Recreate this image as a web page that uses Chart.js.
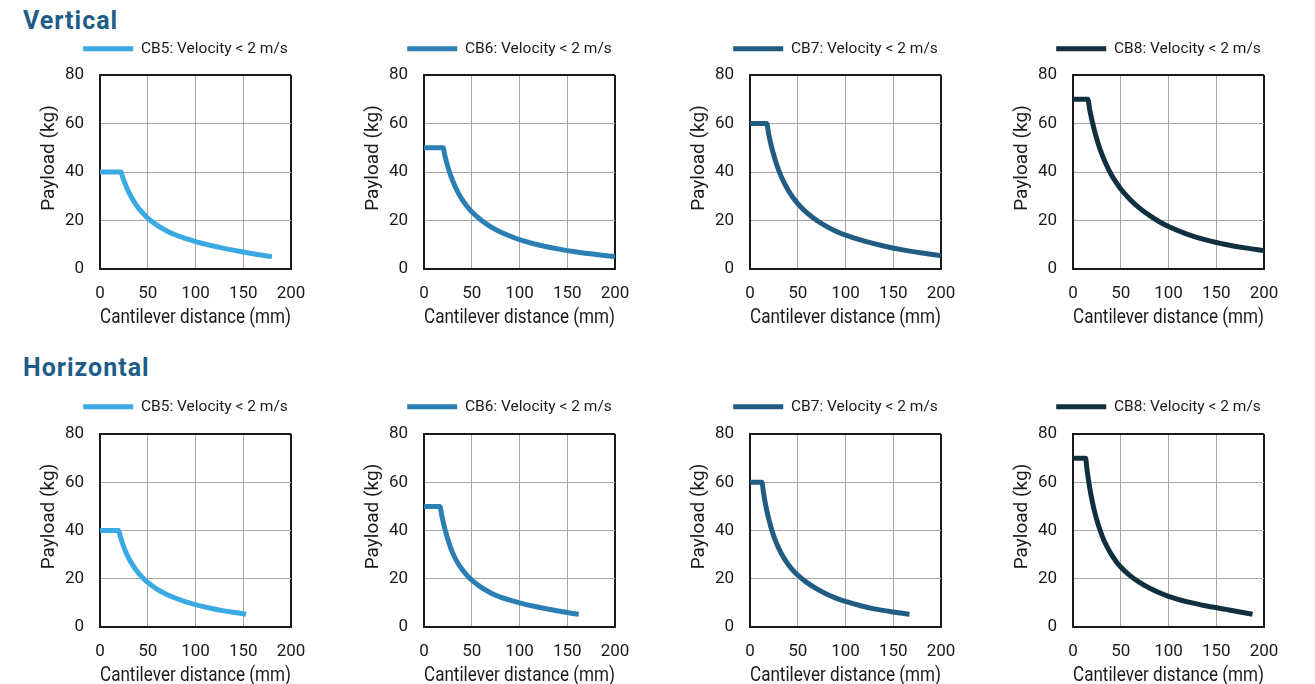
<!DOCTYPE html>
<html>
<head>
<meta charset="utf-8">
<script src="https://cdn.jsdelivr.net/npm/chart.js@4.4.1/dist/chart.umd.min.js"></script>
<style>
  html, body { margin: 0; padding: 0; background: #ffffff; }
  body { position: relative; width: 1315px; height: 684px; overflow: hidden; font-family: Roboto, sans-serif; }
  .sec { position: absolute; left: 23px; font-family: Roboto, sans-serif; font-weight: 700; font-size: 25px; letter-spacing: 1px; color: #1e5d87; line-height: normal; white-space: nowrap; }
  canvas { position: absolute; }
</style>
</head>
<body>
<div class="sec" style="top:6px">Vertical</div>
<div class="sec" style="top:353px">Horizontal</div>
<script>
// ---------- data ----------
const xTickValues = [0, 50, 100, 150, 200];
const yTickValues = [0, 20, 40, 60, 80];
const xAxisTitle = 'Cantilever distance (mm)';
const yAxisTitle = 'Payload (kg)';
const seriesLabels = ['CB5: Velocity < 2 m/s', 'CB6: Velocity < 2 m/s', 'CB7: Velocity < 2 m/s', 'CB8: Velocity < 2 m/s'];
const seriesColors = ['#3ba9e4', '#2b7fb4', '#215c82', '#11303f'];

// Vertical mounting
const vCB5X = [0, 22, 24, 27, 30, 35, 40, 45, 50, 60, 70, 80, 90, 100, 115, 130, 150, 165, 180];
const vCB5Y = [40, 40, 37.6, 34.5, 31.8, 28.2, 25.3, 23, 21, 18, 15.7, 13.9, 12.55, 11.3, 9.8, 8.5, 7, 6, 5.1];
const vCB6X = [0, 20, 22, 25, 28, 32, 36, 40, 45, 50, 60, 70, 80, 90, 100, 120, 140, 160, 180, 200];
const vCB6Y = [50, 50, 46.5, 42.1, 38.5, 34.5, 31.3, 28.6, 25.9, 23.6, 20.1, 17.4, 15.3, 13.6, 12.1, 9.9, 8.3, 7, 6, 5.1];
const vCB7X = [0, 17.5, 19.5, 22, 25, 28, 32, 36, 40, 45, 50, 60, 70, 80, 90, 100, 120, 140, 160, 180, 200];
const vCB7Y = [60, 60, 55.8, 51.3, 46.8, 43, 38.8, 35.4, 32.5, 29.5, 27, 23, 20, 17.6, 15.6, 14, 11.5, 9.5, 7.9, 6.6, 5.5];
const vCB8X = [0, 15.5, 17.5, 20, 23, 26, 30, 35, 40, 45, 50, 60, 70, 80, 90, 100, 120, 140, 160, 180, 200];
const vCB8Y = [70, 70, 65.7, 61.1, 56.3, 52.2, 47.6, 42.9, 39, 35.8, 33, 28.6, 25, 22.1, 19.6, 17.5, 14.3, 11.9, 10.1, 8.7, 7.6];

// Horizontal mounting
const hCB5X = [0, 19.5, 21.5, 24, 27, 30, 35, 40, 45, 50, 60, 70, 80, 90, 100, 115, 130, 143, 153];
const hCB5Y = [40, 40, 37.2, 34.2, 31.1, 28.6, 25.2, 22.5, 20.3, 18.5, 15.6, 13.5, 11.8, 10.4, 9.3, 7.9, 6.7, 5.9, 5.3];
const hCB6X = [0, 16.7, 18.5, 21, 24, 28, 32, 36, 40, 45, 50, 60, 70, 80, 90, 100, 115, 130, 145, 162];
const hCB6Y = [50, 50, 46.4, 42, 37.6, 32.7, 29, 26.1, 23.8, 21.4, 19.4, 16.4, 14.1, 12.4, 11.1, 10, 8.6, 7.4, 6.3, 5.3];
const hCB7X = [0, 12.5, 14, 16, 18, 21, 24, 27, 30, 35, 40, 45, 50, 60, 70, 80, 90, 100, 115, 130, 150, 167];
const hCB7Y = [60, 60, 56, 51.4, 47.5, 42.7, 38.7, 35.4, 32.7, 28.9, 25.9, 23.5, 21.5, 18.3, 15.8, 13.7, 12, 10.6, 8.9, 7.5, 6.2, 5.3];
const hCB8X = [0, 13.2, 14.5, 16.5, 19, 22, 25, 28, 32, 36, 40, 45, 50, 60, 70, 80, 90, 100, 120, 140, 160, 175, 188];
const hCB8Y = [70, 70, 65.8, 60.2, 54.4, 48.8, 44.3, 40.5, 36.3, 33, 30.2, 27.3, 24.9, 21.2, 18.4, 16.2, 14.3, 12.7, 10.4, 8.7, 7.3, 6.25, 5.3];

// ---------- layout / style ----------
const TEXT_C = '#1a1a1a';
const AXIS_C = '#1a1a1a';
const GRID_C = '#a8a8a8';
const FONT = 'Roboto';
const LEGEND_SIZE = 15.5;
const LEGEND_PAD = 10;
const BOX_W = 50;
const Y_AXIS_W = 70;
const X_AXIS_H = 61;
const PLOT_W = 191;
const plotLefts = [100, 424, 750, 1073];
const rows = [
  { top: 31, plotTop: 75, plotBottom: 269, series: [[vCB5X, vCB5Y], [vCB6X, vCB6Y], [vCB7X, vCB7Y], [vCB8X, vCB8Y]] },
  { top: 389, plotTop: 434, plotBottom: 627, series: [[hCB5X, hCB5Y], [hCB6X, hCB6Y], [hCB7X, hCB7Y], [hCB8X, hCB8Y]] }
];

const yTitlePlugin = {
  id: 'yTitleText',
  afterDraw(chart, args, opts) {
    const { ctx, chartArea } = chart;
    ctx.save();
    ctx.translate(chartArea.left + opts.dx, (chartArea.top + chartArea.bottom) / 2 + opts.dy);
    ctx.rotate(-Math.PI / 2);
    ctx.font = opts.font;
    ctx.fillStyle = opts.color;
    ctx.textAlign = 'center';
    ctx.textBaseline = 'middle';
    ctx.fillText(opts.text, 0, 0);
    ctx.restore();
  }
};

const measureCtx = document.createElement('canvas').getContext('2d');

function buildChart(label, color, xs, ys, plotLeft, row) {
  measureCtx.font = `${LEGEND_SIZE}px ${FONT}`;
  const itemW = BOX_W + LEGEND_SIZE / 2 + measureCtx.measureText(label).width;
  const cLeft = plotLeft - Y_AXIS_W;
  const legendStart = plotLeft - 17;
  const width = Math.round(2 * (legendStart - cLeft) + itemW);
  const height = row.plotBottom + X_AXIS_H - row.top;
  const rightPad = width - Y_AXIS_W - PLOT_W;
  const legendH = LEGEND_SIZE + 2 * LEGEND_PAD;
  const spacer = (row.plotTop - row.top) - legendH;

  const cv = document.createElement('canvas');
  cv.width = width; cv.height = height;
  cv.style.left = cLeft + 'px';
  cv.style.top = row.top + 'px';
  cv.style.width = width + 'px';
  cv.style.height = height + 'px';
  document.body.appendChild(cv);

  new Chart(cv, {
    type: 'line',
    data: {
      datasets: [{
        label: label,
        data: xs.map((x, i) => ({ x: x, y: ys[i] })),
        borderColor: color,
        backgroundColor: color,
        borderWidth: 5,
        pointRadius: 0,
        tension: 0.4,
        cubicInterpolationMode: 'monotone',
        borderJoinStyle: 'round',
        borderCapStyle: 'butt',
        fill: false
      }]
    },
    options: {
      responsive: false,
      maintainAspectRatio: false,
      animation: false,
      devicePixelRatio: 1,
      events: [],
      layout: { padding: 0 },
      plugins: {
        legend: {
          display: true,
          position: 'top',
          align: 'center',
          weight: 1000,
          labels: {
            boxWidth: BOX_W,
            boxHeight: 5,
            padding: LEGEND_PAD,
            color: TEXT_C,
            font: { family: FONT, size: LEGEND_SIZE },
            generateLabels: ch => ch.data.datasets.map((d, i) => ({
              text: d.label, fillStyle: d.borderColor, strokeStyle: d.borderColor,
              lineWidth: 0, hidden: false, datasetIndex: i, fontColor: TEXT_C
            }))
          }
        },
        // empty spacer box between the legend and the plot area
        title: {
          display: true,
          text: '',
          position: 'top',
          weight: 500,
          font: { family: FONT, size: 1, lineHeight: 1 },
          padding: { top: 0, bottom: spacer - 1 }
        },
        tooltip: { enabled: false },
        yTitleText: { text: yAxisTitle, dx: -51, dy: -14, font: `19px ${FONT}`, color: TEXT_C }
      },
      scales: {
        x: {
          type: 'linear',
          min: xTickValues[0],
          max: xTickValues[xTickValues.length - 1],
          afterBuildTicks: s => { s.ticks = xTickValues.map(v => ({ value: v })); },
          afterFit: s => { s.height = X_AXIS_H; s.paddingRight = rightPad; },
          grid: {
            drawTicks: false,
            color: c => (c.tick && c.tick.value === xTickValues[xTickValues.length - 1]) ? AXIS_C : GRID_C,
            lineWidth: c => (c.tick && c.tick.value === xTickValues[xTickValues.length - 1]) ? 2 : 1
          },
          border: { display: true, color: AXIS_C, width: 2 },
          ticks: { padding: 15, color: TEXT_C, font: { family: FONT, size: 17 }, maxRotation: 0, autoSkip: false },
          title: { display: true, text: xAxisTitle, color: TEXT_C, font: { family: FONT, size: 20 }, padding: { top: 0, bottom: 0 } }
        },
        y: {
          type: 'linear',
          min: yTickValues[0],
          max: yTickValues[yTickValues.length - 1],
          afterBuildTicks: s => { s.ticks = yTickValues.map(v => ({ value: v })); },
          afterFit: s => { s.width = Y_AXIS_W; },
          grid: {
            drawTicks: false,
            color: c => (c.tick && c.tick.value === yTickValues[yTickValues.length - 1]) ? AXIS_C : GRID_C,
            lineWidth: c => (c.tick && c.tick.value === yTickValues[yTickValues.length - 1]) ? 2 : 1
          },
          border: { display: true, color: AXIS_C, width: 2 },
          ticks: { padding: 16, color: TEXT_C, font: { family: FONT, size: 17 } },
          title: { display: false }
        }
      }
    },
    plugins: [yTitlePlugin]
  });
}

rows.forEach(row => {
  row.series.forEach((s, i) => {
    buildChart(seriesLabels[i], seriesColors[i], s[0], s[1], plotLefts[i], row);
  });
});
</script>
</body>
</html>
